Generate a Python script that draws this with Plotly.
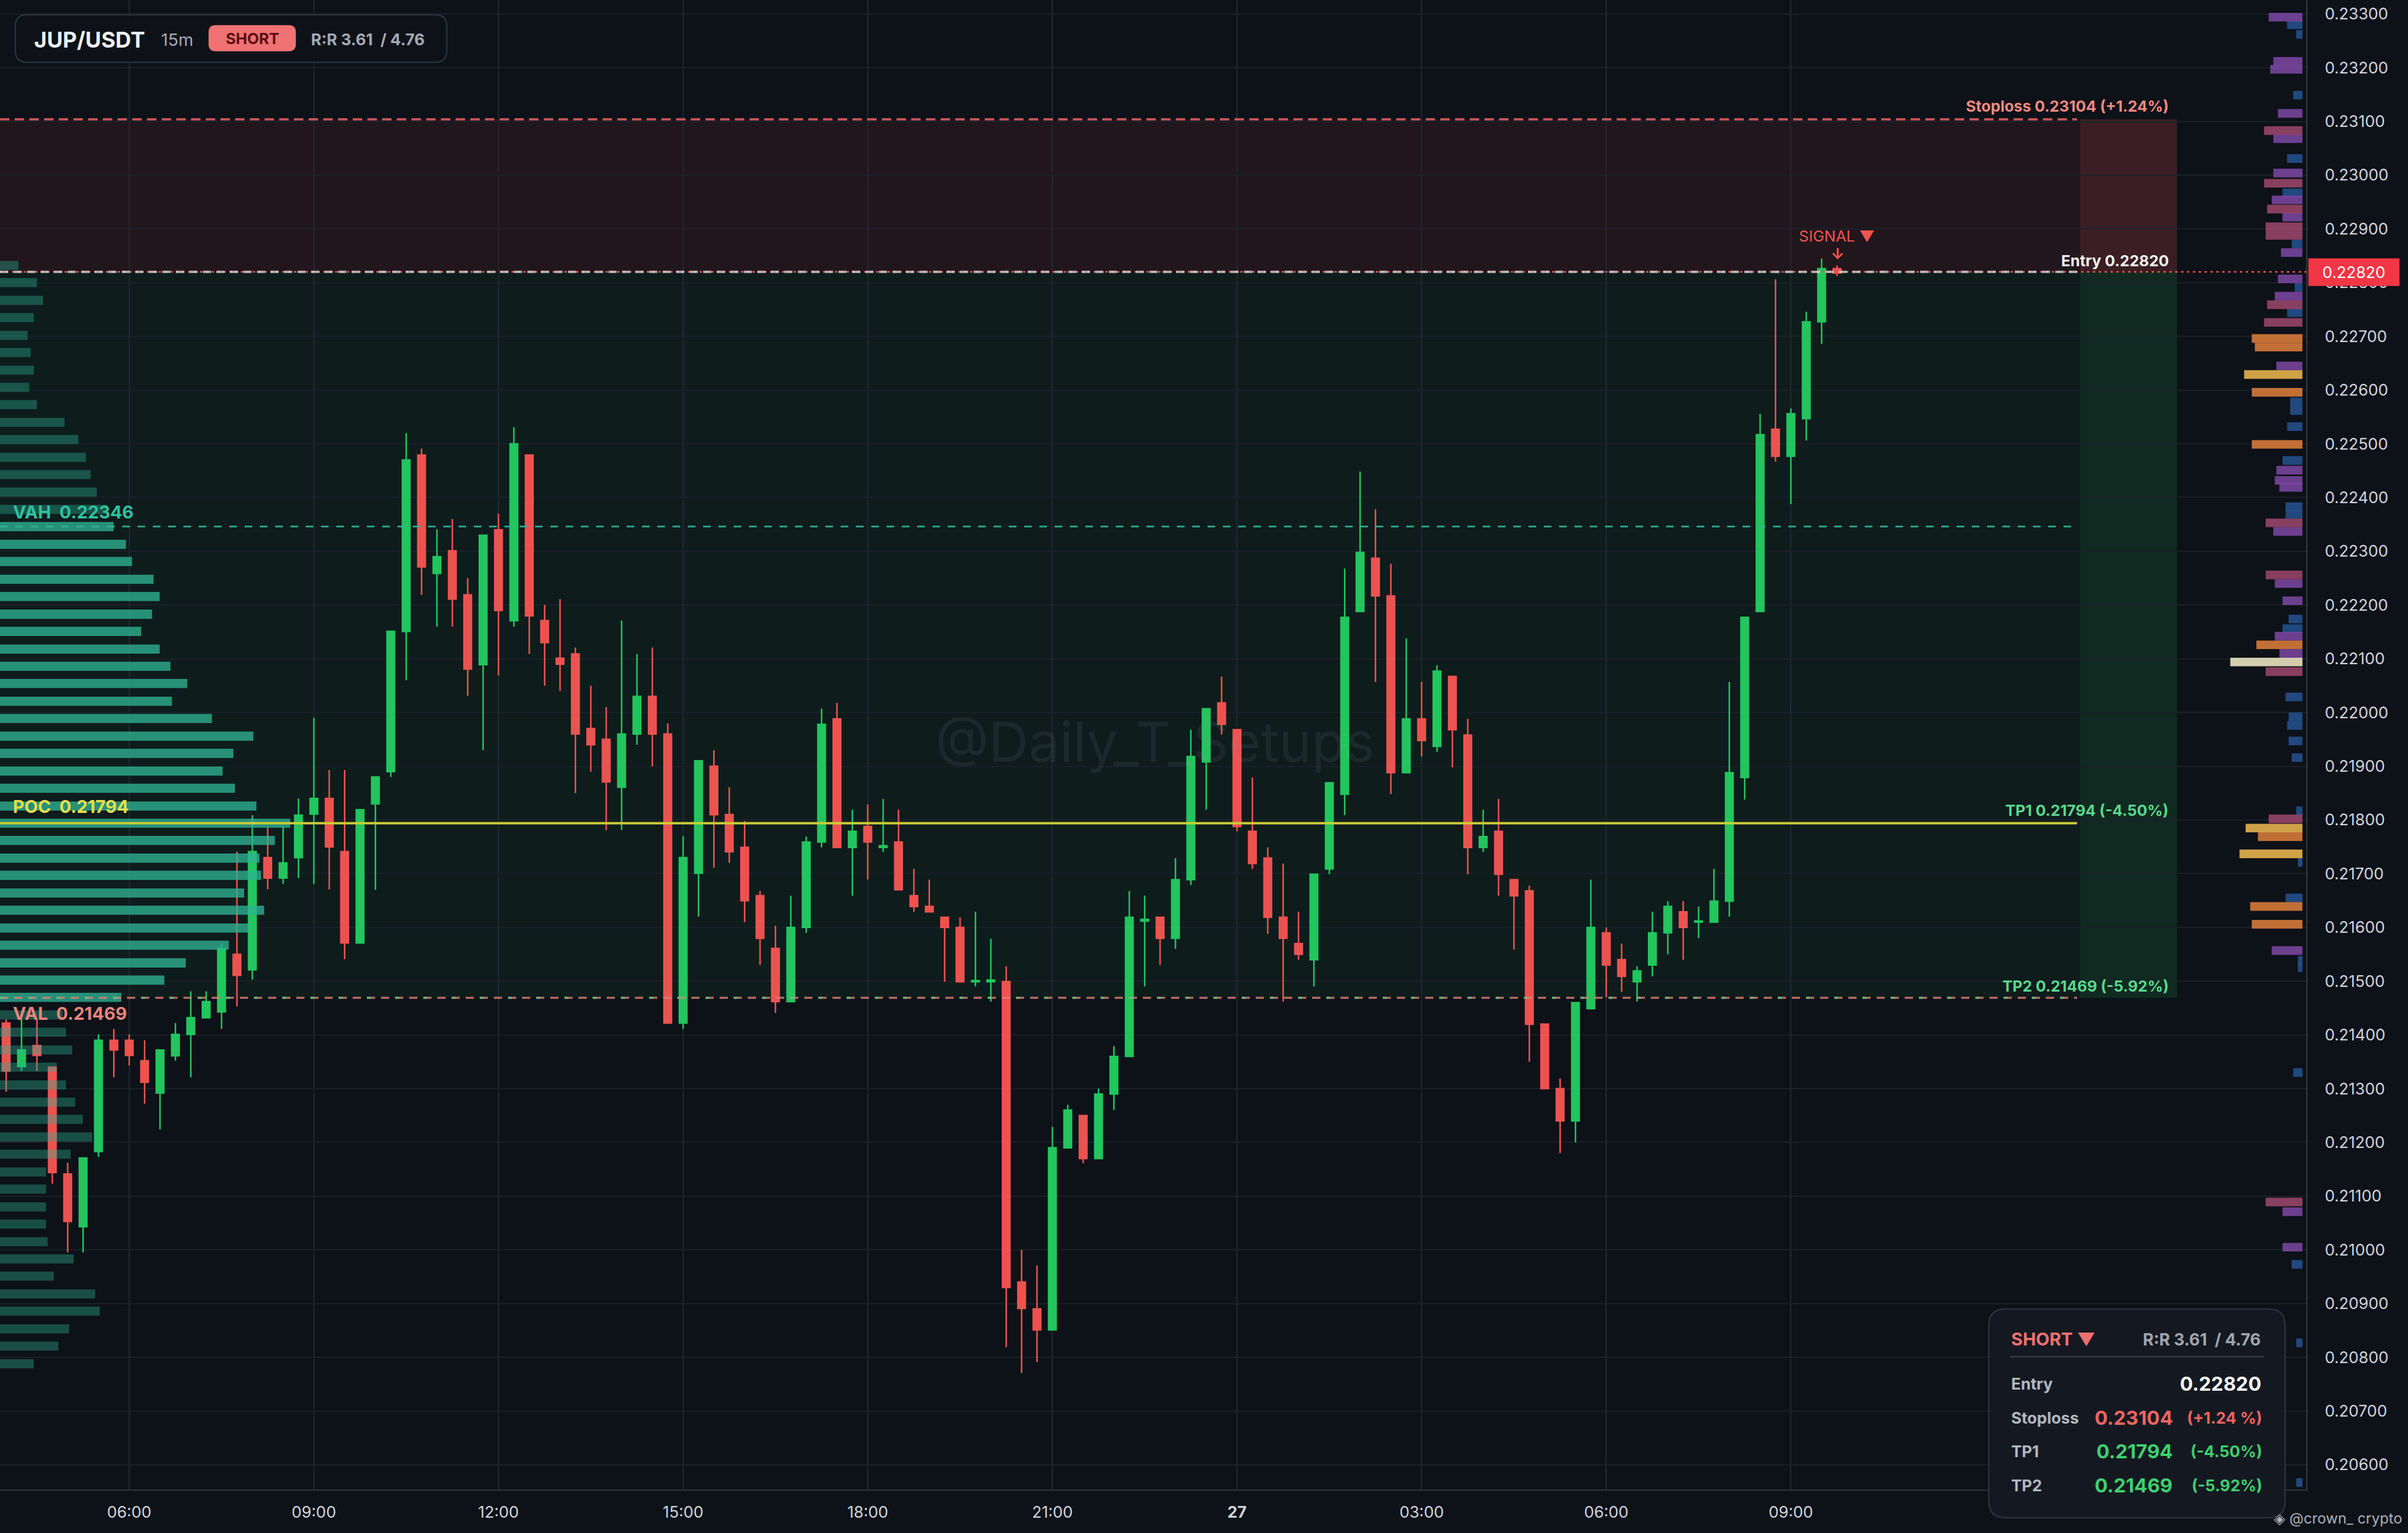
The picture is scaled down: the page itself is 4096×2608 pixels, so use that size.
import pandas as pd
import plotly.graph_objects as go

# ---- 15m candles, JUP/USDT ----
opens = [0.21422, 0.21341, 0.21380, 0.21340, 0.21141, 0.21043, 0.21183, 0.21390, 0.21390, 0.21352,
         0.21292, 0.21361, 0.21401, 0.21432, 0.21443, 0.21550, 0.21521, 0.21730, 0.21692, 0.21730,
         0.21811, 0.21840, 0.21741, 0.21571, 0.21830, 0.21890, 0.22151, 0.22479, 0.22259, 0.22301,
         0.22219, 0.22089, 0.22340, 0.22171, 0.22479, 0.22171, 0.22101, 0.22109, 0.21970, 0.21950,
         0.21861, 0.21960, 0.22030, 0.21960, 0.21422, 0.21701, 0.21900, 0.21810, 0.21749, 0.21659,
         0.21561, 0.21462, 0.21600, 0.21759, 0.21988, 0.21749, 0.21788, 0.21749, 0.21759, 0.21659,
         0.21639, 0.21619, 0.21600, 0.21499, 0.21499, 0.21499, 0.20940, 0.20890, 0.20851, 0.21190,
         0.21250, 0.21170, 0.21290, 0.21360, 0.21612, 0.21619, 0.21580, 0.21689, 0.21908, 0.22018,
         0.21968, 0.21779, 0.21729, 0.21619, 0.21570, 0.21540, 0.21709, 0.21848, 0.22188, 0.22287,
         0.22217, 0.21888, 0.21988, 0.21937, 0.22067, 0.21958, 0.21749, 0.21779, 0.21689, 0.21668,
         0.21420, 0.21300, 0.21240, 0.21449, 0.21590, 0.21540, 0.21499, 0.21530, 0.21590, 0.21629,
         0.21610, 0.21610, 0.21649, 0.21879, 0.22188, 0.22527, 0.22477, 0.22547, 0.22727, 0.22826]
highs = [0.21429, 0.21429, 0.21429, 0.21340, 0.21162, 0.21171, 0.21401, 0.21411, 0.21401, 0.21390,
         0.21372, 0.21422, 0.21481, 0.21481, 0.21570, 0.21741, 0.21809, 0.21788, 0.21788, 0.21840,
         0.21990, 0.21893, 0.21893, 0.21819, 0.21880, 0.22151, 0.22520, 0.22491, 0.22341, 0.22360,
         0.22250, 0.22330, 0.22370, 0.22531, 0.22479, 0.22200, 0.22211, 0.22121, 0.22050, 0.22010,
         0.22171, 0.22109, 0.22121, 0.21980, 0.21770, 0.21910, 0.21930, 0.21861, 0.21798, 0.21668,
         0.21603, 0.21659, 0.21769, 0.22007, 0.22018, 0.21819, 0.21829, 0.21839, 0.21819, 0.21709,
         0.21689, 0.21619, 0.21619, 0.21629, 0.21579, 0.21528, 0.21000, 0.20971, 0.21229, 0.21270,
         0.21250, 0.21300, 0.21379, 0.21668, 0.21659, 0.21619, 0.21729, 0.21968, 0.22007, 0.22067,
         0.21968, 0.21879, 0.21749, 0.21719, 0.21629, 0.21699, 0.21869, 0.22268, 0.22448, 0.22378,
         0.22277, 0.22138, 0.22057, 0.22088, 0.22067, 0.21988, 0.21819, 0.21839, 0.21689, 0.21678,
         0.21420, 0.21319, 0.21460, 0.21689, 0.21600, 0.21570, 0.21528, 0.21629, 0.21649, 0.21649,
         0.21639, 0.21709, 0.22057, 0.22177, 0.22556, 0.22806, 0.22566, 0.22746, 0.22845, 0.22832]
lows = [0.21294, 0.21333, 0.21333, 0.21123, 0.20995, 0.20995, 0.21173, 0.21321, 0.21343, 0.21272,
        0.21224, 0.21352, 0.21321, 0.21432, 0.21411, 0.21453, 0.21503, 0.21671, 0.21681, 0.21692,
        0.21681, 0.21671, 0.21541, 0.21571, 0.21670, 0.21880, 0.22060, 0.22219, 0.22160, 0.22160,
        0.22031, 0.21930, 0.22069, 0.22160, 0.22109, 0.22050, 0.22040, 0.21850, 0.21890, 0.21781,
        0.21781, 0.21940, 0.21900, 0.21422, 0.21411, 0.21620, 0.21711, 0.21720, 0.21610, 0.21530,
        0.21441, 0.21462, 0.21590, 0.21749, 0.21749, 0.21659, 0.21689, 0.21740, 0.21670, 0.21629,
        0.21629, 0.21499, 0.21499, 0.21490, 0.21462, 0.20819, 0.20771, 0.20791, 0.20851, 0.21190,
        0.21161, 0.21170, 0.21260, 0.21360, 0.21490, 0.21530, 0.21560, 0.21679, 0.21819, 0.21959,
        0.21779, 0.21709, 0.21588, 0.21462, 0.21540, 0.21490, 0.21699, 0.21809, 0.22188, 0.22057,
        0.21848, 0.21888, 0.21918, 0.21927, 0.21898, 0.21699, 0.21740, 0.21659, 0.21559, 0.21350,
        0.21300, 0.21180, 0.21200, 0.21449, 0.21470, 0.21480, 0.21462, 0.21509, 0.21550, 0.21540,
        0.21580, 0.21610, 0.21620, 0.21838, 0.22188, 0.22467, 0.22388, 0.22506, 0.22686, 0.22812]
closes = [0.21333, 0.21372, 0.21362, 0.21144, 0.21053, 0.21171, 0.21390, 0.21372, 0.21362, 0.21312,
          0.21372, 0.21401, 0.21432, 0.21462, 0.21561, 0.21511, 0.21741, 0.21692, 0.21720, 0.21809,
          0.21840, 0.21750, 0.21571, 0.21819, 0.21880, 0.22151, 0.22470, 0.22271, 0.22290, 0.22211,
          0.22081, 0.22330, 0.22190, 0.22500, 0.22180, 0.22130, 0.22090, 0.21960, 0.21940, 0.21871,
          0.21960, 0.22030, 0.21960, 0.21422, 0.21730, 0.21910, 0.21810, 0.21741, 0.21650, 0.21580,
          0.21462, 0.21600, 0.21759, 0.21978, 0.21749, 0.21779, 0.21759, 0.21752, 0.21670, 0.21639,
          0.21629, 0.21600, 0.21499, 0.21501, 0.21502, 0.20930, 0.20891, 0.20851, 0.21190, 0.21260,
          0.21170, 0.21290, 0.21360, 0.21619, 0.21615, 0.21580, 0.21689, 0.21918, 0.22007, 0.21978,
          0.21788, 0.21719, 0.21619, 0.21580, 0.21550, 0.21699, 0.21869, 0.22177, 0.22298, 0.22217,
          0.21888, 0.21988, 0.21948, 0.22077, 0.21968, 0.21749, 0.21769, 0.21699, 0.21659, 0.21420,
          0.21300, 0.21240, 0.21460, 0.21600, 0.21530, 0.21509, 0.21519, 0.21590, 0.21639, 0.21600,
          0.21612, 0.21649, 0.21888, 0.22177, 0.22517, 0.22477, 0.22556, 0.22727, 0.22826, 0.22818]

# trade setup levels
entry = 0.22820
stoploss = 0.23104
tp1 = 0.21794
tp2 = 0.21469
vah = 0.22346
poc = 0.21794
val = 0.21469

# left volume profile (price bin, relative volume)
vp_price = [0.22832, 0.22800, 0.22767, 0.22735, 0.22702, 0.22670, 0.22637, 0.22605, 0.22573, 0.22540,
            0.22508, 0.22475, 0.22443, 0.22410, 0.22378, 0.22346, 0.22313, 0.22281, 0.22248, 0.22216,
            0.22183, 0.22151, 0.22118, 0.22086, 0.22054, 0.22021, 0.21989, 0.21956, 0.21924, 0.21891,
            0.21859, 0.21826, 0.21794, 0.21762, 0.21729, 0.21697, 0.21664, 0.21632, 0.21599, 0.21567,
            0.21534, 0.21502, 0.21470, 0.21437, 0.21405, 0.21372, 0.21340, 0.21307, 0.21275, 0.21243,
            0.21210, 0.21178, 0.21145, 0.21113, 0.21080, 0.21048, 0.21015, 0.20983, 0.20951, 0.20918,
            0.20886, 0.20853, 0.20821, 0.20788]
vp_vol = [12, 24, 28, 22, 18, 20, 22, 19, 24, 42,
          51, 56, 59, 63, 70, 74, 82, 86, 100, 104,
          99, 92, 104, 111, 122, 112, 138, 165, 152, 145,
          153, 167, 189, 179, 169, 170, 159, 172, 162, 149,
          121, 107, 79, 41, 43, 47, 37, 43, 49, 54,
          60, 46, 30, 30, 30, 30, 31, 48, 35, 62,
          65, 45, 38, 22]

# right-edge liquidity heat bars, grouped by colour
heat_purple_price = [0.23294, 0.23212, 0.23197, 0.23115, 0.23068, 0.23004, 0.22954, 0.22922, 0.22856, 0.22807,
                     0.22775, 0.22645, 0.22451, 0.22432, 0.22419, 0.22337, 0.22240, 0.22208, 0.22142, 0.22110,
                     0.21557, 0.21071, 0.21005]
heat_purple_size = [22, 19, 21, 16, 19, 19, 20, 13, 14, 16, 18, 17, 17, 18, 15, 19, 18, 13, 18, 15, 20, 13, 13]
heat_rose_price = [0.23083, 0.22985, 0.22937, 0.22904, 0.22888, 0.22759, 0.22726, 0.22353, 0.22256, 0.22076,
                   0.21802, 0.21089]
heat_rose_size = [25, 25, 23, 24, 24, 23, 25, 24, 24, 24, 22, 24]
heat_blue_price = [0.23280, 0.23262, 0.23149, 0.23031, 0.22967, 0.22872, 0.22791, 0.22744, 0.22578, 0.22562,
                   0.22532, 0.22469, 0.22383, 0.22369, 0.22174, 0.22156, 0.22029, 0.21992, 0.21976, 0.21947,
                   0.21916, 0.21817, 0.21721, 0.21655, 0.21539, 0.21525, 0.21330, 0.20973, 0.20827, 0.20567]
heat_blue_size = [10, 4, 6, 10, 13, 7, 5, 10, 8, 8, 10, 13, 11, 11, 9, 13, 11, 9, 10, 9,
                  7, 4, 3, 11, 3, 3, 6, 7, 4, 4]
heat_orange_price = [0.22696, 0.22680, 0.22596, 0.22499, 0.22126, 0.21769, 0.21639, 0.21606]
heat_orange_size = [33, 31, 33, 33, 30, 29, 34, 33]
heat_gold_price = [0.22629, 0.21785, 0.21737]
heat_gold_size = [38, 37, 41]
heat_cream_price = [0.22094]
heat_cream_size = [47]

# time axis
t0 = pd.Timestamp("2025-01-26 04:00")
times = pd.date_range(t0, periods=len(opens), freq="15min")
tick_vals = ["2025-01-26 06:00", "2025-01-26 09:00", "2025-01-26 12:00", "2025-01-26 15:00",
             "2025-01-26 18:00", "2025-01-26 21:00", "2025-01-27 00:00", "2025-01-27 03:00",
             "2025-01-27 06:00", "2025-01-27 09:00"]
tick_text = ["06:00", "09:00", "12:00", "15:00", "18:00", "21:00", "<b>27</b>", "03:00", "06:00", "09:00"]

W, H = 4096, 2608
PR, PB = 3923, 2534          # plot area right / bottom edge in page pixels
BG = "#0d1118"
GREEN = "#22c55e"
RED = "#ec5350"
FONT = "Inter, Roboto, DejaVu Sans, sans-serif"


def at(i):
    # candle index -> timestamp string (for layout shapes)
    return str(t0 + pd.Timedelta(minutes=15 * i))


def fx(p):
    return p / PR


def fy(p):
    return 1 - p / PB


XL, XR = at(-0.4), at(149.5)
BAND0, BAND1, LINE_END = at(134.8), at(141.1), at(134.6)

fig = go.Figure()

fig.add_trace(go.Candlestick(
    x=times, open=opens, high=highs, low=lows, close=closes,
    increasing=dict(line=dict(color=GREEN, width=2.6), fillcolor=GREEN),
    decreasing=dict(line=dict(color=RED, width=2.6), fillcolor=RED),
    whiskerwidth=0, showlegend=False, hoverinfo="skip",
))

# volume profile on its own overlay axis
vp_colors = ["rgba(46,178,146,0.78)" if val <= p <= vah else "rgba(46,178,146,0.38)" for p in vp_price]
fig.add_trace(go.Bar(x=vp_vol, y=vp_price, orientation="h", width=0.00017, base=0,
                     marker=dict(color=vp_colors, line_width=0),
                     xaxis="x2", yaxis="y", showlegend=False, hoverinfo="skip"))

heat_groups = [
    (heat_blue_price, heat_blue_size, "rgba(38,84,146,0.85)"),
    (heat_purple_price, heat_purple_size, "rgba(126,72,165,0.85)"),
    (heat_rose_price, heat_rose_size, "rgba(160,72,108,0.85)"),
    (heat_orange_price, heat_orange_size, "rgba(214,122,58,0.9)"),
    (heat_gold_price, heat_gold_size, "rgba(229,178,76,0.9)"),
    (heat_cream_price, heat_cream_size, "rgba(222,216,182,0.95)"),
]
for prices, sizes, col in heat_groups:
    fig.add_trace(go.Bar(x=sizes, y=prices, orientation="h", width=0.00016, base=2.5,
                         marker=dict(color=col, line_width=0),
                         xaxis="x3", yaxis="y", showlegend=False, hoverinfo="skip"))

shapes = []


def box(x0, x1, y0, y1, color, layer="below"):
    shapes.append(dict(type="rect", xref="x", yref="y", x0=x0, x1=x1, y0=y0, y1=y1,
                       fillcolor=color, line_width=0, layer=layer))


def hline(y, x0, x1, color, width, dash="solid"):
    shapes.append(dict(type="line", xref="x", yref="y", x0=x0, x1=x1, y0=y, y1=y,
                       line=dict(color=color, width=width, dash=dash), layer="above"))


def rrect(x0, y0, x1, y1, r, fill, border, layer="above"):
    # rounded rectangle in page pixels (top-left origin)
    pts = [("M", x0 + r, y0), ("L", x1 - r, y0), ("Q", x1, y0, x1, y0 + r), ("L", x1, y1 - r),
           ("Q", x1, y1, x1 - r, y1), ("L", x0 + r, y1), ("Q", x0, y1, x0, y1 - r), ("L", x0, y0 + r),
           ("Q", x0, y0, x0 + r, y0)]
    path = ""
    for p in pts:
        cmd, coords = p[0], p[1:]
        xy = []
        for k in range(0, len(coords), 2):
            xy.append(f"{fx(coords[k]):.5f},{fy(coords[k + 1]):.5f}")
        path += cmd + " ".join(xy) + " "
    shapes.append(dict(type="path", xref="paper", yref="paper", path=path + "Z",
                       fillcolor=fill, line=dict(color=border, width=2.5), layer=layer))


# risk / reward zones
box(XL, BAND0, entry, stoploss, "rgba(239,83,80,0.085)")
box(BAND0, BAND1, entry, stoploss, "rgba(239,83,80,0.20)")
box(XL, BAND0, tp2, entry, "rgba(34,197,94,0.065)")
box(BAND0, BAND1, tp2, entry, "rgba(34,197,94,0.14)")

# level lines
hline(stoploss, XL, LINE_END, "rgba(222,98,96,0.85)", 4, "16px,9px")
hline(entry, XL, XR, "rgba(236,83,80,0.9)", 3, "4px,6px")
hline(entry, XL, LINE_END, "rgba(225,225,225,0.75)", 4, "14px,9px")
hline(vah, XL, LINE_END, "rgba(47,181,150,0.9)", 3, "13px,13px")
hline(poc, XL, LINE_END, "#cdcd38", 4)
hline(val, XL, LINE_END, "rgba(226,128,118,0.8)", 3.5, "14px,10px")
hline(val, XL, LINE_END, "rgba(90,200,130,0.75)", 3.5, "7px,41px")

# header pill and info card
rrect(26, 25, 760, 106, 20, "rgba(14,18,25,0.92)", "#2b303b")
rrect(356, 44, 502, 86, 11, "#f07272", "#f07272")
rrect(3383, 2227, 3887, 2582, 28, "#141921", "#2c313c")
shapes.append(dict(type="line", xref="paper", yref="paper", x0=fx(3419), x1=fx(3851),
                   y0=fy(2308), y1=fy(2308), line=dict(color="#363b46", width=2.5), layer="above"))

ann = []


def note(text, x, y, size, color, xanchor="left", yanchor="middle", xref="paper", yref="paper",
         yshift=0, bold=False):
    if bold:
        text = f"<b>{text}</b>"
    ann.append(dict(text=text, x=x, y=y, xref=xref, yref=yref, xanchor=xanchor, yanchor=yanchor,
                    yshift=yshift, showarrow=False, font=dict(size=size, color=color, family=FONT)))


# header
note("JUP/USDT", fx(56), fy(67), 37, "#eef0f3", bold=True)
note("15m", fx(272), fy(67), 29, "#a4a9b3")
note("SHORT", fx(429), fy(66), 26, "#5a0e16", xanchor="center", bold=True)
note("R:R 3.61  / 4.76", fx(527), fy(67), 27, "#a4a9b3", bold=True)

# level labels, left side
note("VAH  0.22346", fx(20), vah, 30, "#2fc19f", yref="y", yanchor="bottom", yshift=5, bold=True)
note("POC  0.21794", fx(20), poc, 30, "#e4de4c", yref="y", yanchor="bottom", yshift=8, bold=True)
note("VAL  0.21469", fx(20), val, 30, "#e8847a", yref="y", yanchor="top", yshift=-6, bold=True)

# level labels, right side
RX = fx(3691)
note("Stoploss 0.23104 (+1.24%)", RX, stoploss, 26, "#f08a80", xanchor="right", yref="y", yanchor="bottom", yshift=5, bold=True)
note("Entry 0.22820", RX, entry, 26, "#f2f2f2", xanchor="right", yref="y", yanchor="bottom", yshift=2, bold=True)
note("TP1 0.21794 (-4.50%)", RX, tp1, 26, "#5ad88c", xanchor="right", yref="y", yanchor="bottom", yshift=4, bold=True)
note("TP2 0.21469 (-5.92%)", RX, tp2, 26, "#5ad88c", xanchor="right", yref="y", yanchor="bottom", yshift=3, bold=True)

# signal marker
note("SIGNAL ▼", fx(3124), fy(402), 26, "#f0544f", xanchor="center")
note("<b>↓</b>", fx(3126), fy(432), 26, "#f0544f", xanchor="center")

# watermark
note("@Daily_T_Setups", fx(1964), fy(1262), 94, "rgba(150,160,172,0.10)", xanchor="center")

# info card
note("SHORT ▼", fx(3419), fy(2278), 30, "#f07070", bold=True)
note("R:R 3.61  / 4.76", fx(3847), fy(2279), 28, "#a0a5ae", xanchor="right", bold=True)
rows = [("Entry", "0.22820", "", "#f5f5f5", 2354),
        ("Stoploss", "0.23104", "(+1.24 %)", "#ef6461", 2412),
        ("TP1", "0.21794", "(-4.50%)", "#3fcf6e", 2469),
        ("TP2", "0.21469", "(-5.92%)", "#3fcf6e", 2527)]
for name, price, pct, col, yy in rows:
    note(name, fx(3419), fy(yy), 27, "#b3b7c0", bold=True)
    if pct:
        note(price, fx(3698), fy(yy), 33, col, xanchor="right", bold=True)
        note(pct, fx(3850), fy(yy), 27, col, xanchor="right", bold=True)
    else:
        note(price, fx(3848), fy(yy), 33, col, xanchor="right", bold=True)

note("◈ @crown_ crypto", fx(4088), fy(2583), 25, "#aab0b8", xanchor="right")

# current price tag on the axis
ann.append(dict(text="0.22820", x=1, xref="paper", xanchor="left", xshift=3, y=entry, yref="y",
                showarrow=False, bgcolor="#f23645", borderpad=5, width=144, height=36,
                font=dict(size=27, color="#ffffff", family=FONT)))

fig.update_layout(
    width=W, height=H,
    margin=dict(l=0, r=W - PR, t=0, b=H - PB, pad=0),
    paper_bgcolor=BG, plot_bgcolor=BG,
    font=dict(family=FONT, color="#d1d4dc"),
    shapes=shapes, annotations=ann,
    barmode="overlay",
    xaxis=dict(type="date", range=[XL, XR], rangeslider=dict(visible=False),
               tickvals=tick_vals, ticktext=tick_text, tickfont=dict(size=27, color="#d1d4dc"),
               showgrid=True, gridcolor="#232830", gridwidth=2, ticks="", ticklabelstandoff=14,
               showline=True, linecolor="#2f343e", linewidth=2, zeroline=False),
    xaxis2=dict(overlaying="x", range=[0, 1502], visible=False, fixedrange=True),
    xaxis3=dict(overlaying="x", range=[1502, 0], visible=False, fixedrange=True),
    yaxis=dict(side="right", range=[0.20554, 0.23326], tick0=0.206, dtick=0.001, tickformat=".5f",
               tickfont=dict(size=27, color="#d1d4dc"), showgrid=True, gridcolor="#1b2028", gridwidth=2,
               ticks="", ticklabelstandoff=24, showline=True, linecolor="#363a45", linewidth=2,
               zeroline=False),
)

fig.write_html("out.html", config={"displayModeBar": False},
               post_script="document.body.style.margin='0';")
